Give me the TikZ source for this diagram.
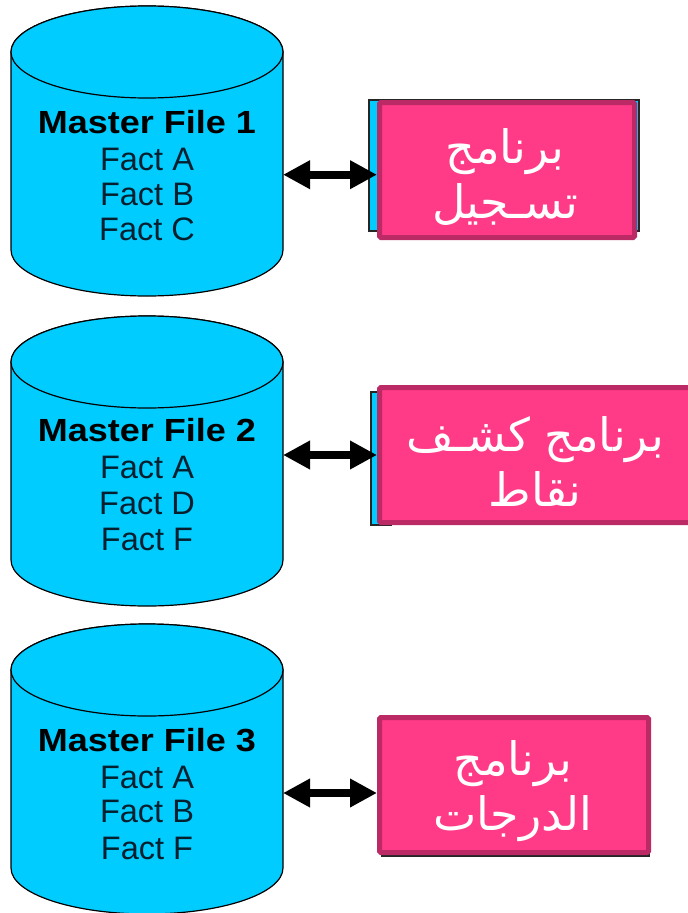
\documentclass[tikz,border=0pt]{standalone}
\usepackage{fontspec}
\setmainfont{Liberation Sans}
\newfontfamily\titlefont[FakeStretch=1.125]{Liberation Sans}
\newfontfamily\arabicfont[Script=Arabic]{DejaVu Sans}
\TeXXeTstate=1
\usetikzlibrary{arrows.meta}
\definecolor{cyl}{HTML}{00CCFF}
\definecolor{pinkfill}{HTML}{FF3A87}
\definecolor{pinkline}{HTML}{BC2A66}
\definecolor{facttext}{HTML}{04202F}
\tikzset{
  cylbody/.style={draw=black,line width=1.2pt,fill=cyl},
  cylbox/.style={minimum width=272pt,minimum height=290pt,inner sep=0pt,outer sep=0pt},
  title/.style={anchor=base,font=\fontsize{32}{32}\titlefont\bfseries,text=black,inner sep=0pt},
  fact/.style={anchor=base,font=\fontsize{32.5}{32}\selectfont,text=facttext,inner sep=0pt},
  backbox/.style={draw=black!85,line width=1.2pt,fill=cyl,inner sep=0pt},
  prog/.style={draw=pinkline,line width=5pt,fill=pinkfill,rounded corners=1.5pt,inner sep=0pt,minimum height=135pt},
  progtext/.style={text=white,font=\fontsize{46}{55}\selectfont\arabicfont,align=center,inner sep=0pt},
  link/.style={line width=8pt,{Triangle[length=27pt,width=27pt]}-{Triangle[length=27pt,width=27pt]},shorten <=0pt,shorten >=0pt}
}
\newcommand{\cylat}[2]{%
  \path[cylbody] (11,#1+46) -- (11,#1+244) arc[start angle=180,end angle=0,x radius=136,y radius=46]
     -- (283,#1+46) arc[start angle=0,end angle=-180,x radius=136,y radius=46] -- cycle;
  \path[cylbody] (147,#1+46) ellipse[x radius=136,y radius=46];
  \node[cylbox] (#2) at (147,#1+145) {};
}
\begin{document}
\begin{tikzpicture}[x=1pt,y=-1pt]
\useasboundingbox (0,0) rectangle (688,913);
\fill[white] (0,0) rectangle (688,913);

% cylinders
\cylat{6}{cylA}
\cylat{316}{cylB}
\cylat{624}{cylC}

% cylinder texts
\node[title] (ma) at (147,133.5) {Master File 1};
\node[fact] (ma1) at (147,170) {Fact A};
\node[fact] (ma2) at (147,205) {Fact B};
\node[fact] (ma3) at (147,240) {Fact C};
\node[title] (mb) at (147,441.5) {Master File 2};
\node[fact] (mb1) at (147,478) {Fact A};
\node[fact] (mb2) at (147,514) {Fact D};
\node[fact] (mb3) at (147,550) {Fact F};
\node[title] (mc) at (147,751.5) {Master File 3};
\node[fact] (mc1) at (147,788) {Fact A};
\node[fact] (mc2) at (147,822) {Fact B};
\node[fact] (mc3) at (147,859) {Fact F};

% boxes behind the programs
\node[backbox,minimum width=270pt,minimum height=131pt] (backA) at (504,165.5) {};
\node[backbox,minimum width=20pt,minimum height=133pt] (backB) at (381,458.5) {};
\node[draw=black!85,fill=black!85,line width=1pt,inner sep=0pt,minimum width=268pt,minimum height=100pt] (backC) at (515.5,806.5) {};

% program boxes
\node[prog,minimum width=255pt] (progA) at (507,170) {};
\node[prog,minimum width=311pt] (progB) at (535,455) {};
\node[prog,minimum width=269pt] (progC) at (514,785) {};

\node[progtext] (ta) at (505,177) {\beginR برنامج\endR\\\beginR تسـجيل\endR};
\node[progtext] (tb) at (535,462) {\beginR برنامج كشـف\endR\\\beginR نقاط\endR};
\node[progtext] (tc) at (513,791) {\beginR برنامج\endR\\\beginR الدرجات\endR};

% connectors
\coordinate (ya) at (0,174.7);
\coordinate (yb) at (0,455);
\coordinate (yc) at (0,793);
\draw[link] (cylA.east |- ya) -- (progA.west |- ya);
\draw[link] (cylB.east |- yb) -- (progB.west |- yb);
\draw[link] (cylC.east |- yc) -- (progC.west |- yc);
\end{tikzpicture}
\end{document}
